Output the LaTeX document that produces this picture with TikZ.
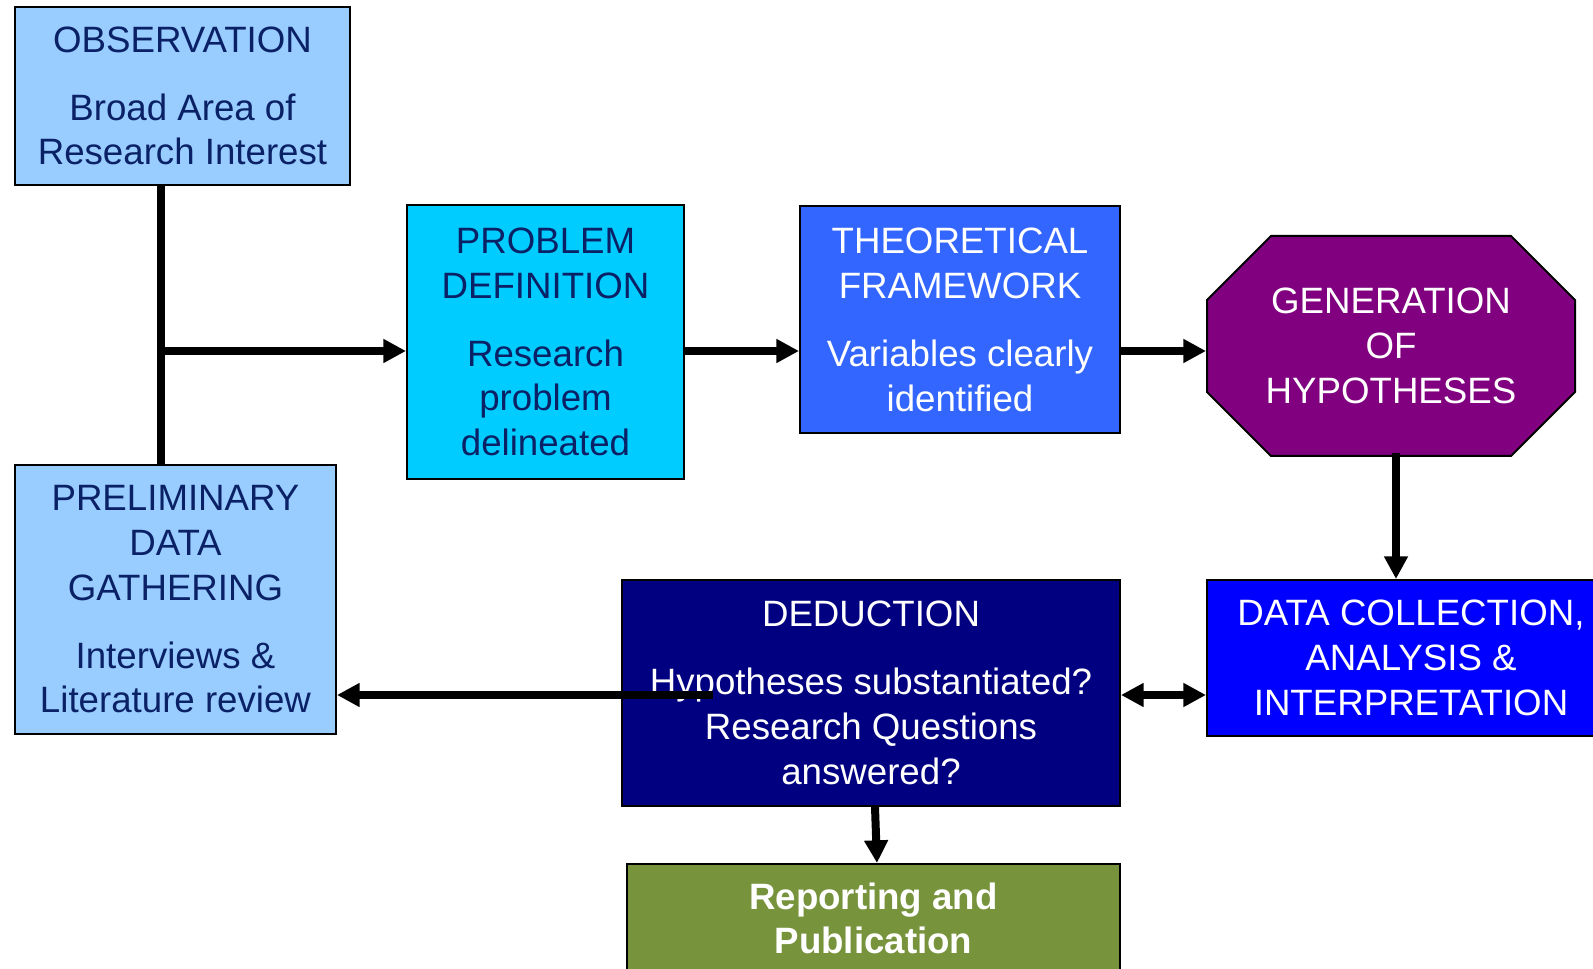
\documentclass[tikz,border=0pt]{standalone}
\usepackage{fontspec}
\setmainfont{Liberation Sans}
\usetikzlibrary{arrows.meta}
\definecolor{lblue}{HTML}{99CCFF}
\definecolor{cyanbox}{HTML}{00CCFF}
\definecolor{midblue}{HTML}{3366FF}
\definecolor{purp}{HTML}{800080}
\definecolor{pureblue}{HTML}{0000FF}
\definecolor{navybox}{HTML}{000080}
\definecolor{olivebox}{HTML}{77933C}
\definecolor{navytext}{HTML}{0A2166}
\begin{document}
\begin{tikzpicture}[x=0.75pt,y=-0.75pt,
  box/.style={draw=black, line width=1.5pt, inner sep=0pt, align=center,
    font=\fontsize{27.5}{33.5}\selectfont},
  conn/.style={line width=6pt, draw=black},
  arr/.style={conn, -{Triangle[length=17pt,width=17pt]}},
  darr/.style={conn, {Triangle[length=17pt,width=17pt]}-{Triangle[length=17pt,width=17pt]}}]
\fill[white] (0,0) rectangle (1593,969);
\useasboundingbox (0,0) rectangle (1593,969);
\clip (0,0) rectangle (1593,969);

\node[box, fill=lblue, text=navytext, minimum width=251.25pt, minimum height=133.5pt] (obs) at (182.5,96)
  {OBSERVATION\\[17.5pt] Broad Area of\\ Research Interest};
\node[box, fill=cyanbox, text=navytext, minimum width=207.75pt, minimum height=205.5pt] (prob) at (545.5,342)
  {PROBLEM\\ DEFINITION\\[17.5pt] Research\\ problem\\ delineated};
\node[box, fill=midblue, text=white, minimum width=240pt, minimum height=170.25pt] (theo) at (960,320)
  {THEORETICAL\\ FRAMEWORK\\[17.5pt] Variables clearly\\ identified};
% octagon outline of GENERATION OF HYPOTHESES
\filldraw[fill=purp, draw=black, line width=1.5pt]
  (1271,236) -- (1511,236) -- (1575,300) -- (1575,392) -- (1511,456)
  -- (1271,456) -- (1207,392) -- (1207,300) -- cycle;
\node[box, draw=none, text=white, minimum width=276pt, minimum height=165pt] (gen) at (1391,346)
  {GENERATION\\ OF\\ HYPOTHESES};
\node[box, fill=pureblue, text=white, minimum width=306pt, minimum height=117pt] (data) at (1411,658)
  {DATA COLLECTION,\\ ANALYSIS \&\\ INTERPRETATION};
\node[box, fill=navybox, text=white, minimum width=373.5pt, minimum height=169.5pt] (ded) at (871,693)
  {DEDUCTION\\[17.5pt] Hypotheses substantiated?\\ Research Questions\\ answered?};
\node[box, fill=lblue, text=navytext, minimum width=240.75pt, minimum height=201.75pt] (prelim) at (175.5,599.5)
  {PRELIMINARY\\ DATA\\ GATHERING\\[17.5pt] Interviews \&\\ Literature review};
\node[box, fill=olivebox, text=white, minimum width=369.75pt, minimum height=81.75pt,
  font=\fontsize{27.5}{33.5}\selectfont\bfseries] (rep) at (873.5,918.5)
  {Reporting and\\ Publication};

\coordinate (j) at (161,351);
\coordinate (vx) at (1396,0);
\coordinate (hy) at (0,695);
\coordinate (lstart) at (713,695);

\draw[conn] (obs.south -| j) -- (prelim.north -| j);
\draw[arr] (j) -- (j -| prob.west);
\draw[arr] (j -| prob.east) -- (j -| theo.west);
\draw[arr] (j -| theo.east) -- (j -| gen.west);
\draw[arr] ([yshift=3pt]gen.south -| vx) -- (data.north -| vx);
\draw[darr] (ded.east |- hy) -- (data.west |- hy);
\draw[arr] (lstart) -- (lstart -| prelim.east);
\draw[arr] ([xshift=3pt]ded.south) -- ([xshift=2.6pt]rep.north);
\end{tikzpicture}
\end{document}
